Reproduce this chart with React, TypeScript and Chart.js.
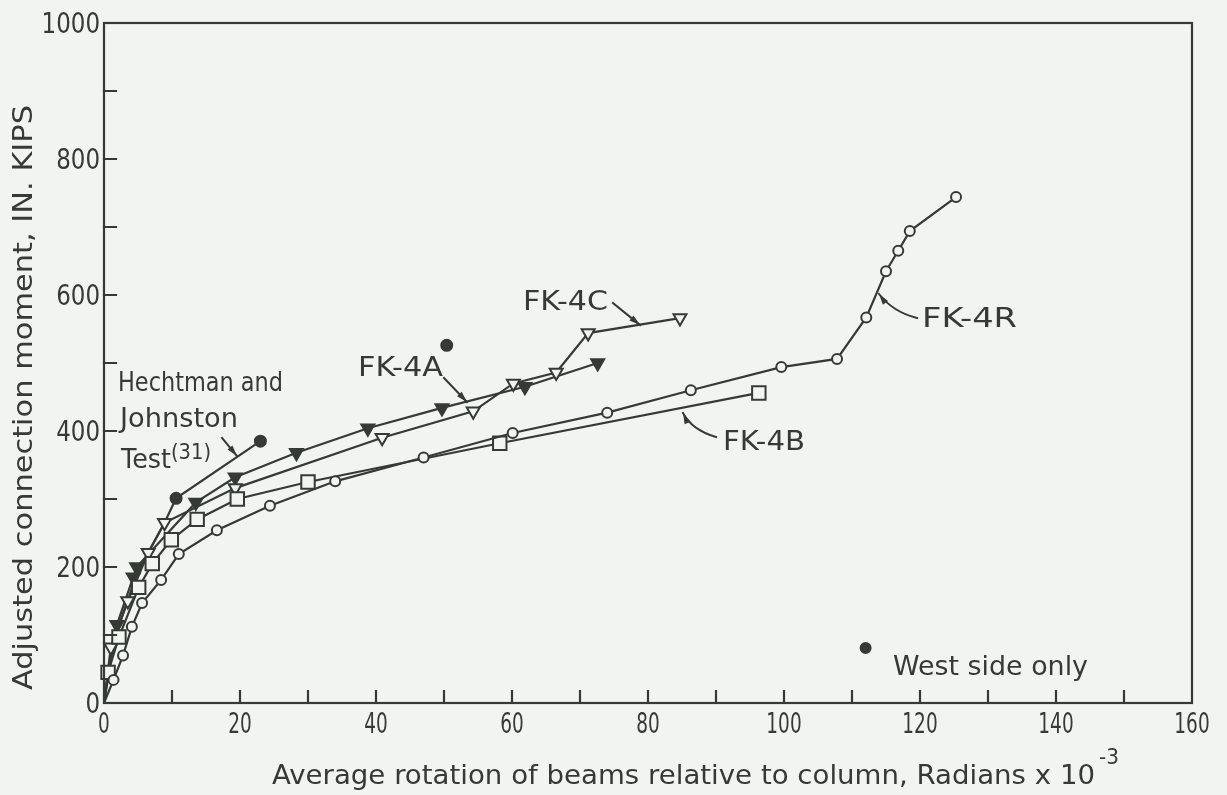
import React, { useEffect, useRef } from "react";
import { Chart, registerables } from "chart.js";

Chart.register(...registerables);

// ---------- data ----------
const xTickValues = [0, 20, 40, 60, 80, 100, 120, 140, 160];
const yTickValues = [0, 200, 400, 600, 800, 1000];
const xMinorTicks = [10, 20, 30, 40, 50, 60, 70, 80, 90, 100, 110, 120, 130, 140, 150];
const yMinorTicks = [100, 200, 300, 400, 500, 600, 700, 800, 900];

const hechtmanX = [0, 1.2, 4.5, 6.5, 8.9, 10.6, 23.0];
const hechtmanY = [0, 85, 180, 221, 265, 301, 385];
const hechtmanMarked = [0, 0, 0, 0, 0, 1, 1];

const fk4aX = [0, 1.9, 4.3, 4.8, 13.5, 19.3, 28.3, 38.8, 49.7, 61.9, 72.6];
const fk4aY = [0, 115, 185, 200, 295, 332, 368, 404, 434, 465, 500];

const fk4cX = [0, 1.0, 3.5, 6.5, 8.9, 19.3, 40.9, 54.3, 60.2, 66.5, 71.2, 84.7];
const fk4cY = [0, 82, 150, 221, 265, 316, 390, 429, 470, 486, 544, 566];

const fk4bX = [0, 0.6, 2.2, 5.1, 7.1, 9.9, 13.7, 19.6, 30.0, 58.2, 96.3];
const fk4bY = [0, 45, 97, 170, 205, 240, 270, 300, 325, 382, 456];

const fk4rX = [0, 1.4, 2.8, 4.1, 5.6, 8.4, 11.0, 16.6, 24.4, 34.0, 47.0, 60.1, 74.0, 86.3, 99.6, 107.8, 112.1, 115.0, 116.8, 118.5, 125.3];
const fk4rY = [0, 34, 70, 112, 147, 181, 219, 254, 290, 326, 361, 397, 427, 460, 494, 506, 567, 635, 665, 694, 744];

const westSideX = [50.4];
const westSideY = [526];
const noteMarkX = [112];
const noteMarkY = [81];

// ---------- styles ----------
const INK = "#353a35";
const PAPER = "#f1f4f0";
const FONT = "'DejaVu Sans', 'Liberation Sans', sans-serif";

const pts = (xs: number[], ys: number[]) => xs.map((x, i) => ({ x, y: ys[i] }));

function fitText(
  ctx: CanvasRenderingContext2D,
  text: string,
  x: number,
  y: number,
  size: number,
  align: CanvasTextAlign,
  opts: { width?: number; sx?: number; rotate?: number } = {}
) {
  ctx.save();
  ctx.font = `${size}px ${FONT}`;
  const w = ctx.measureText(text).width;
  const sx = opts.width ? opts.width / w : opts.sx ?? 1;
  ctx.translate(x, y);
  if (opts.rotate) ctx.rotate(opts.rotate);
  ctx.scale(sx, 1);
  ctx.textAlign = align;
  ctx.textBaseline = "alphabetic";
  ctx.fillStyle = INK;
  ctx.fillText(text, 0, 0);
  ctx.restore();
}

function arrowHead(ctx: CanvasRenderingContext2D, fx: number, fy: number, tx: number, ty: number) {
  const ang = Math.atan2(ty - fy, tx - fx);
  const len = 11;
  const half = 3.2;
  ctx.beginPath();
  ctx.moveTo(tx, ty);
  ctx.lineTo(tx - len * Math.cos(ang) + half * Math.sin(ang), ty - len * Math.sin(ang) - half * Math.cos(ang));
  ctx.lineTo(tx - len * Math.cos(ang) - half * Math.sin(ang), ty - len * Math.sin(ang) + half * Math.cos(ang));
  ctx.closePath();
  ctx.fill();
}

const labels = [
  { text: "Hechtman and", x: 118, y: 391, w: 165 },
  { text: "Johnston", x: 120, y: 427, w: 118 },
  { text: "Test", x: 121, y: 468, w: 50 },
  { text: "FK-4A", x: 358, y: 376, w: 85 },
  { text: "FK-4C", x: 523, y: 310, w: 85 },
  { text: "FK-4B", x: 723, y: 450, w: 82 },
  { text: "FK-4R", x: 922, y: 327, w: 95 },
  { text: "West side only", x: 893, y: 675, w: 195 },
];

const decorPlugin = {
  id: "decor",
  afterDatasetsDraw(chart: any) {
    const { ctx, chartArea: a, scales } = chart;
    const xs = scales.x;
    const ys = scales.y;
    ctx.save();
    ctx.strokeStyle = INK;
    ctx.fillStyle = INK;
    ctx.lineWidth = 2.2;
    ctx.lineCap = "square";
    ctx.strokeRect(a.left, a.top, a.right - a.left, a.bottom - a.top);

    ctx.beginPath();
    xMinorTicks.forEach((v) => {
      const px = xs.getPixelForValue(v);
      ctx.moveTo(px, a.bottom);
      ctx.lineTo(px, a.bottom - 12);
    });
    yMinorTicks.forEach((v) => {
      const py = ys.getPixelForValue(v);
      ctx.moveTo(a.left, py);
      ctx.lineTo(a.left + 12, py);
    });
    ctx.stroke();

    xTickValues.forEach((v) => {
      fitText(ctx, String(v), xs.getPixelForValue(v), 733, 28, "center", { sx: 0.66 });
    });
    yTickValues.forEach((v) => {
      fitText(ctx, String(v), a.left - 4, ys.getPixelForValue(v) + 10, 28, "right", { sx: 0.82 });
    });

    // axis titles
    fitText(ctx, "Average rotation of beams relative to column, Radians x 10", 272, 784, 27, "left", { width: 823 });
    fitText(ctx, "-3", 1099, 764, 21, "left", { width: 20 });
    fitText(ctx, "Adjusted connection moment, IN. KIPS", 32, 690, 27, "left", { width: 585, rotate: -Math.PI / 2 });

    labels.forEach((l) => fitText(ctx, l.text, l.x, l.y, 27, "left", { width: l.w }));
    fitText(ctx, "(31)", 171, 459, 21, "left", { width: 40 });

    // leader arrows
    ctx.lineWidth = 2;
    ctx.beginPath();
    ctx.moveTo(222, 438);
    ctx.lineTo(237, 456);
    ctx.stroke();
    arrowHead(ctx, 222, 438, 237, 456);

    ctx.beginPath();
    ctx.moveTo(444, 378);
    ctx.lineTo(467, 402);
    ctx.stroke();
    arrowHead(ctx, 444, 378, 467, 402);

    ctx.beginPath();
    ctx.moveTo(613, 303);
    ctx.lineTo(640, 325);
    ctx.stroke();
    arrowHead(ctx, 613, 303, 640, 325);

    ctx.beginPath();
    ctx.moveTo(716, 437);
    ctx.quadraticCurveTo(692, 430, 683, 413);
    ctx.stroke();
    arrowHead(ctx, 688, 424, 683, 413);

    ctx.beginPath();
    ctx.moveTo(917, 318);
    ctx.quadraticCurveTo(893, 312, 879, 294);
    ctx.stroke();
    arrowHead(ctx, 887, 305, 879, 294);

    ctx.restore();
  },
};

export default function App() {
  const ref = useRef<HTMLCanvasElement | null>(null);

  useEffect(() => {
    if (!ref.current) return;
    const common = {
      showLine: true,
      borderColor: INK,
      borderWidth: 2.2,
      tension: 0,
      pointBorderColor: INK,
      pointBorderWidth: 2,
      clip: 12,
    };
    const chart = new Chart(ref.current, {
      type: "scatter",
      data: {
        datasets: [
          {
            ...common,
            label: "FK-4R",
            data: pts(fk4rX, fk4rY),
            pointStyle: "circle",
            pointRadius: fk4rX.map((_, i) => (i === 0 ? 0 : 5)),
            pointBackgroundColor: PAPER,
          },
          {
            ...common,
            label: "FK-4B",
            data: pts(fk4bX, fk4bY),
            pointStyle: "rect",
            pointRadius: fk4bX.map((_, i) => (i === 0 ? 0 : 9.5)),
            pointBackgroundColor: PAPER,
          },
          {
            ...common,
            label: "FK-4C",
            data: pts(fk4cX, fk4cY),
            pointStyle: "triangle",
            pointRotation: 180,
            pointRadius: fk4cX.map((_, i) => (i === 0 ? 0 : 7.5)),
            pointBackgroundColor: PAPER,
          },
          {
            ...common,
            label: "FK-4A",
            data: pts(fk4aX, fk4aY),
            pointStyle: "triangle",
            pointRotation: 180,
            pointRadius: fk4aX.map((_, i) => (i === 0 ? 0 : 7.5)),
            pointBackgroundColor: INK,
          },
          {
            ...common,
            label: "Hechtman and Johnston Test (31)",
            data: pts(hechtmanX, hechtmanY),
            pointStyle: "circle",
            pointRadius: hechtmanMarked.map((m) => (m ? 5.5 : 0)),
            pointBackgroundColor: INK,
          },
          {
            ...common,
            showLine: false,
            label: "West side only",
            data: pts(westSideX, westSideY),
            pointStyle: "circle",
            pointRadius: 5.5,
            pointBackgroundColor: INK,
          },
          {
            ...common,
            showLine: false,
            label: "West side only (key)",
            data: pts(noteMarkX, noteMarkY),
            pointStyle: "circle",
            pointRadius: 5,
            pointBackgroundColor: INK,
          },
        ],
      },
      options: {
        animation: false,
        responsive: true,
        maintainAspectRatio: false,
        layout: { padding: { top: 23, right: 35, left: 0, bottom: 0 } },
        plugins: { legend: { display: false }, tooltip: { enabled: false } },
        scales: {
          x: {
            type: "linear",
            min: 0,
            max: 160,
            ticks: { display: false },
            grid: { display: false, drawTicks: false },
            border: { display: false },
            afterFit: (s: any) => {
              s.height = 92;
            },
          },
          y: {
            type: "linear",
            min: 0,
            max: 1000,
            ticks: { display: false },
            grid: { display: false, drawTicks: false },
            border: { display: false },
            afterFit: (s: any) => {
              s.width = 104;
            },
          },
        },
      },
      plugins: [decorPlugin],
    } as any);
    return () => chart.destroy();
  }, []);

  return (
    <div
      style={{
        position: "fixed",
        left: 0,
        top: 0,
        width: 1227,
        height: 795,
        background: PAPER,
      }}
    >
      <canvas ref={ref} />
    </div>
  );
}
